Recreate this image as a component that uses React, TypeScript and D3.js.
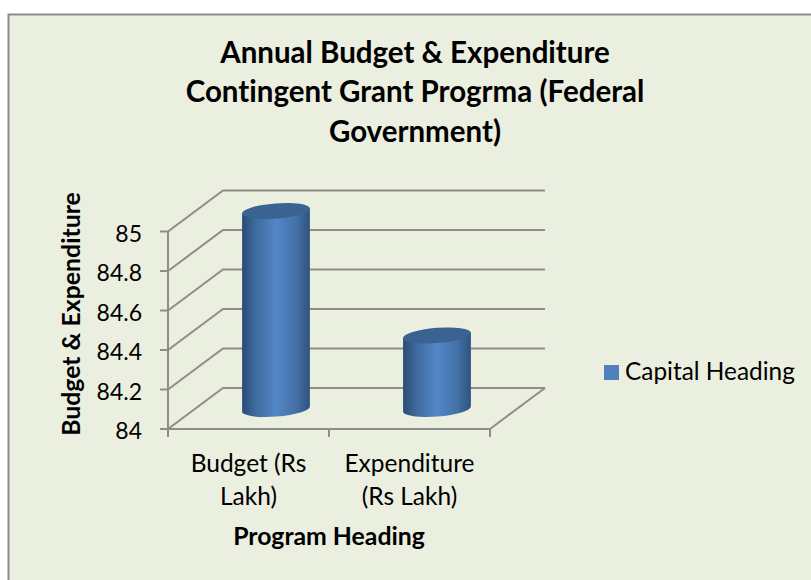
import React from "react";
import * as d3 from "d3";

// Chart content
const titleLines = ["Annual Budget & Expenditure", "Contingent Grant Progrma (Federal", "Government)"];
const categories = ["Budget (Rs Lakh)", "Expenditure (Rs Lakh)"];
const categoryLines = [["Budget (Rs", "Lakh)"], ["Expenditure", "(Rs Lakh)"]];
const seriesName = "Capital Heading";
const values = [85, 84.37];
const valueTicks = [84, 84.2, 84.4, 84.6, 84.8, 85];
const yTitle = "Budget & Expenditure";
const xTitle = "Program Heading";

const FONT = "Lato, Carlito, sans-serif";
const GRID = "#8e8e88";

// Oblique projection of the 3D plot box
const depthX = 55;
const depthY = -41;
const y = d3.scaleLinear().domain([84, 85]).range([429, 231.5]);
const x = d3.scaleBand<string>().domain(categories).range([168, 490]);

const barWidth = 68;
const ellipseRy = 7.6;
const ellipseTilt = -4.5;

// Cylinder standing halfway into the depth of the floor
function Cylinder({ cx, value, id }: { cx: number; value: number; id: string }) {
  const base = y(84) + depthY / 2 + 0.5;
  const top = y(value) + depthY / 2;
  const rx = barWidth / 2;
  const dx = rx * Math.cos((ellipseTilt * Math.PI) / 180);
  const dy = rx * Math.sin((ellipseTilt * Math.PI) / 180);
  const bodyD =
    `M${cx - dx},${top - dy} L${cx + dx},${top + dy} L${cx + dx},${base + dy} ` +
    `A${rx},${ellipseRy} ${ellipseTilt} 0 1 ${cx - dx},${base - dy} Z`;
  return (
    <g>
      <path d={bodyD} fill={`url(#${id})`} />
      <ellipse cx={cx} cy={top} rx={rx} ry={ellipseRy} fill="#3b6391" transform={`rotate(${ellipseTilt} ${cx} ${top})`} />
    </g>
  );
}

export default function App() {
  const [x0, x1] = x.range();
  return (
    <svg width={811} height={580} style={{ position: "absolute", left: 0, top: 0, fontFamily: FONT, fontVariantLigatures: "none" }}>
      <defs>
        <linearGradient id="cyl" x1="0" x2="1" y1="0" y2="0">
          <stop offset="0" stopColor="#2a4b75" />
          <stop offset="0.2" stopColor="#3f6b9f" />
          <stop offset="0.5" stopColor="#5286c6" />
          <stop offset="0.78" stopColor="#4573a9" />
          <stop offset="1" stopColor="#2f5380" />
        </linearGradient>
      </defs>
      <rect x={0} y={0} width={811} height={580} fill="#fff" />
      <rect x={8.5} y={14.5} width={810} height={570} fill="#ebefdf" stroke="#8b8b8b" strokeWidth={2} />

      {titleLines.map((t, i) => (
        <text key={t} x={415} y={63 + i * 39.4} textAnchor="middle" fontSize={29.5} fontWeight={700} fill="#000">{t}</text>
      ))}

      {/* Side wall slants continuing into the back wall gridlines */}
      {valueTicks.map((v) => (
        <path key={v} stroke={GRID} strokeWidth={2} fill="none" d={`M${x0 - 8},${y(v)} H${x0} l${depthX},${depthY} H${x1 + depthX}`} />
      ))}
      <g stroke={GRID} strokeWidth={2} fill="none">
        <path d={`M${x0},${y(85)} V${y(84) + 8}`} />
        <path d={`M${x0},${y(84)} H${x1} l${depthX},${depthY}`} />
        {categories.map((c) => (
          <path key={c} d={`M${(x(c) as number) + x.bandwidth()},${y(84)} v8`} />
        ))}
      </g>

      {categories.map((c, i) => (
        <Cylinder key={c} id="cyl" cx={(x(c) as number) + x.bandwidth() / 2 + depthX / 2} value={values[i]} />
      ))}

      {valueTicks.map((v) => (
        <text key={v} x={142} y={y(v) + 10} textAnchor="end" fontSize={23} fill="#000">{d3.format("")(v)}</text>
      ))}

      {categories.map((c, i) => (
        <g key={c}>
          {categoryLines[i].map((l, j) => (
            <text key={l} x={(x(c) as number) + x.bandwidth() / 2} y={472 + j * 33} textAnchor="middle" fontSize={24.5} fill="#000">{l}</text>
          ))}
        </g>
      ))}

      <text x={329} y={545} textAnchor="middle" fontSize={24.8} fontWeight={700} fill="#000">{xTitle}</text>
      <text transform="translate(79.5,314) rotate(-90)" textAnchor="middle" fontSize={24.8} fontWeight={700} fill="#000">{yTitle}</text>

      <rect x={604} y={365} width={15} height={15} fill="#4f81bd" />
      <text x={625} y={380} fontSize={24.4} fill="#000">{seriesName}</text>
    </svg>
  );
}
